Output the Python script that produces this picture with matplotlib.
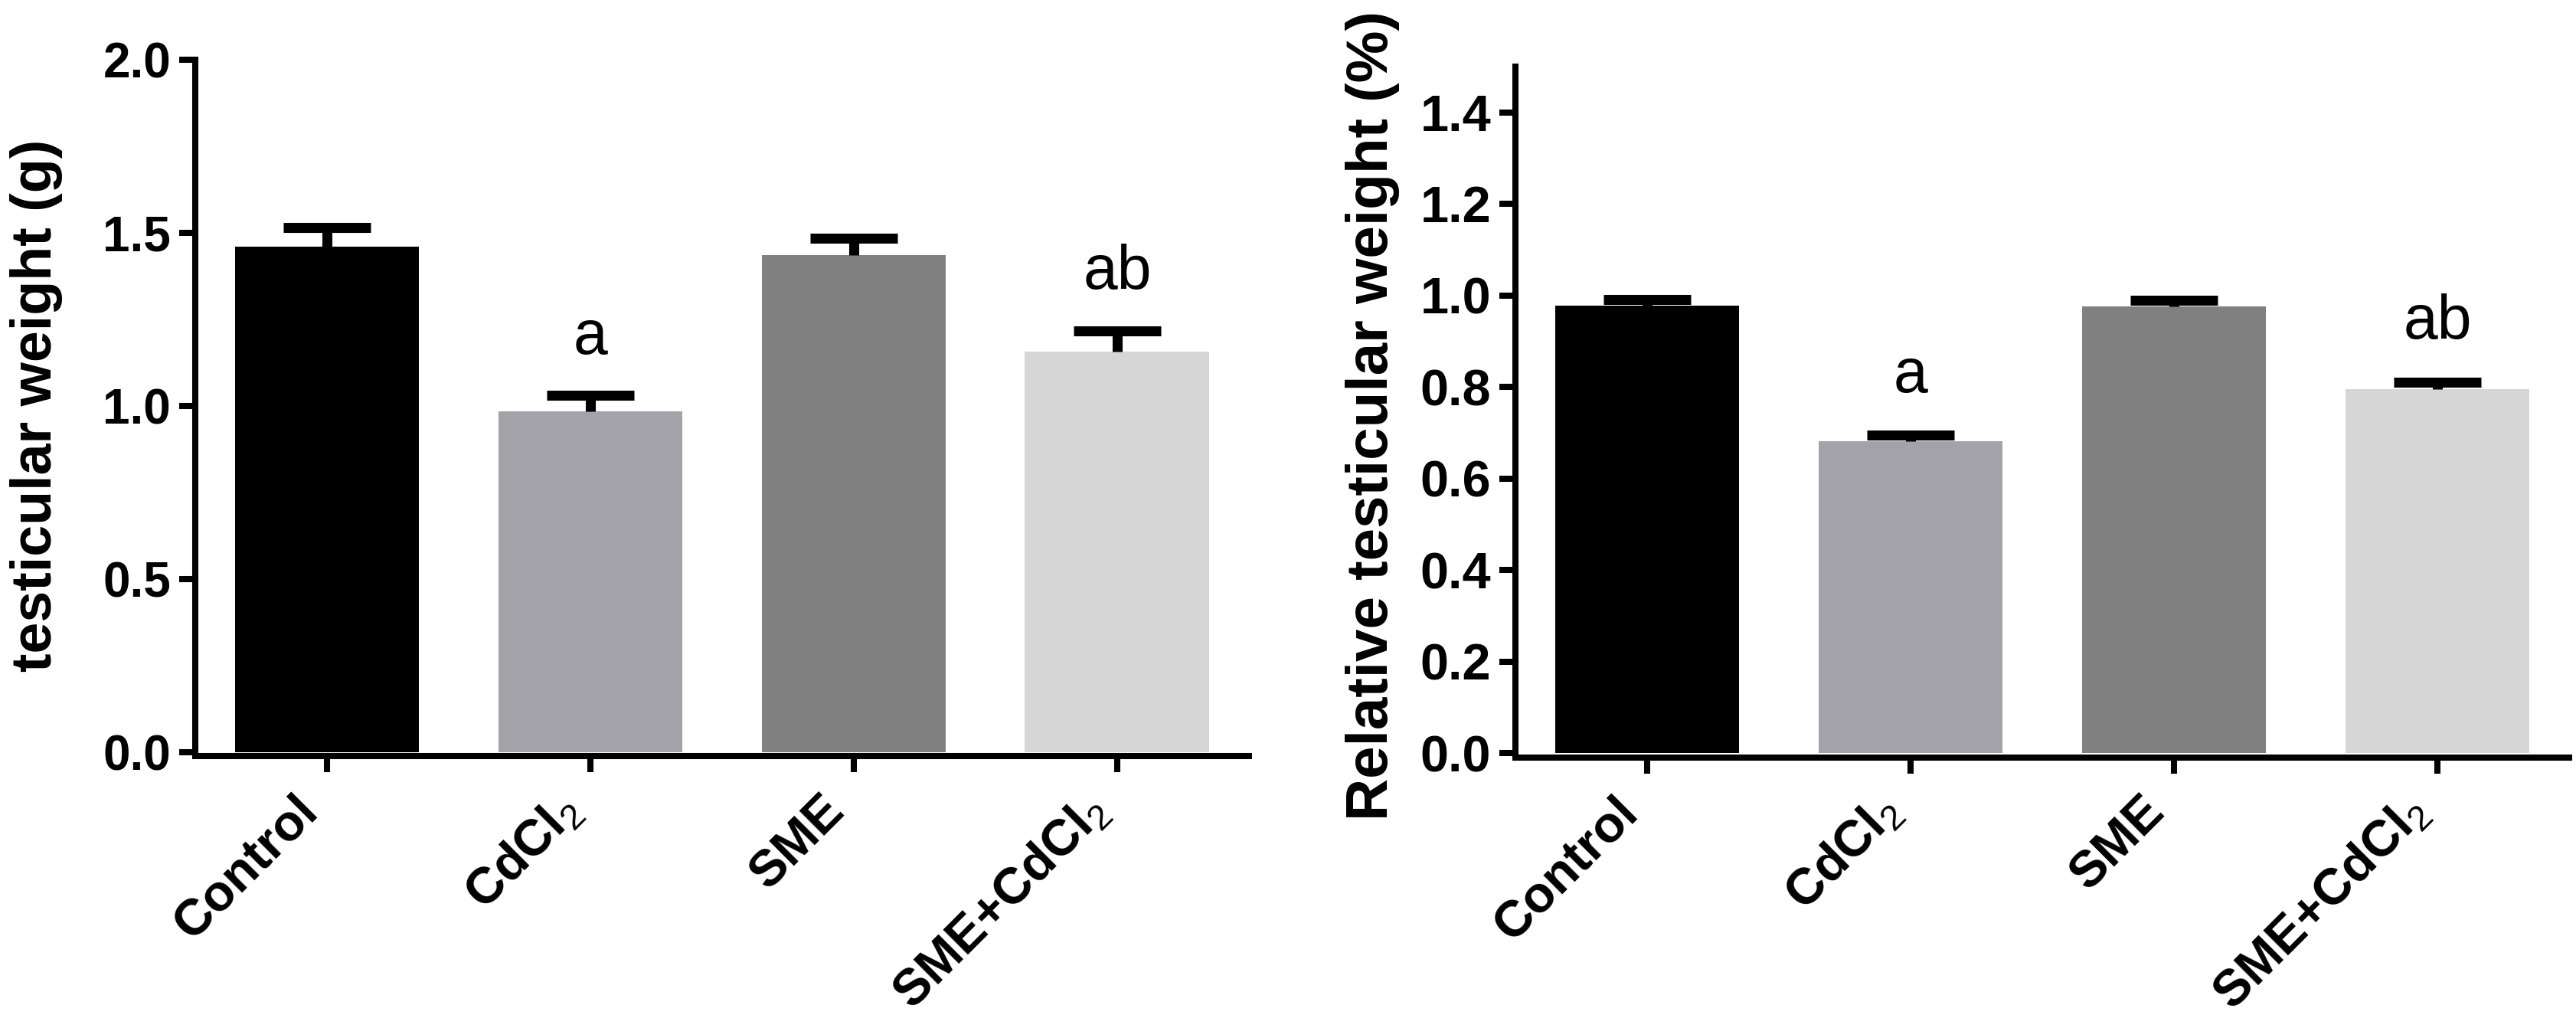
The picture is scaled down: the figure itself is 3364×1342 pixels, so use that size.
import numpy as np
import matplotlib
matplotlib.use('Agg')
import matplotlib.pyplot as plt
import matplotlib.transforms as mtransforms

plt.rcParams['font.family'] = ['Liberation Sans', 'DejaVu Sans']
plt.rcParams['mathtext.fontset'] = 'custom'
plt.rcParams['mathtext.rm'] = 'Liberation Sans'

groups = ['Control', r'CdCl$\mathrm{_2}$', 'SME', r'SME+CdCl$\mathrm{_2}$']
colors = ['#000000', '#a3a2a8', '#808080', '#d6d6d6']

weight_mean = [1.46, 0.985, 1.435, 1.157]
weight_err = [0.055, 0.045, 0.05, 0.06]
weight_sig = ['', 'a', '', 'ab']

rel_mean = [0.978, 0.681, 0.976, 0.796]
rel_err = [0.013, 0.013, 0.013, 0.015]
rel_sig = ['', 'a', '', 'ab']

SPINE = 5.8
ERR_LW = 9.4


def draw_panel(fig, ax, means, errs, sig, ylim, ticks, ylabel, sig_gap, label_x,
               tick_fs, label_fs, label_y=0.5):
    # spine position first: moving it resets the tick labels
    for side in ['top', 'right']:
        ax.spines[side].set_visible(False)
    for side in ['left', 'bottom']:
        ax.spines[side].set_linewidth(SPINE)
    ax.spines['bottom'].set_position(('outward', 4))

    x = np.arange(len(groups))
    means = np.array(means)
    errs = np.array(errs)
    ax.bar(x, means, width=0.7, color=colors, zorder=2)
    top = means + errs
    ax.vlines(x, means, top, color='black', lw=ERR_LW, zorder=3)
    ax.hlines(top, x - 0.165, x + 0.165, color='black', lw=ERR_LW, zorder=3)
    for xi, t, s in zip(x, top, sig):
        if s:
            ax.text(xi, t + sig_gap, s, ha='center', va='baseline',
                    fontsize=58, fontweight='normal')
    ax.set_xlim(-0.5, 3.5)
    ax.set_ylim(*ylim)
    ax.set_yticks(ticks)
    ax.set_yticklabels(['%.1f' % t for t in ticks], fontsize=tick_fs, fontweight='bold')
    ax.set_xticks(x)
    ax.set_xticklabels(groups, rotation=45, ha='right', fontsize=48, fontweight='bold')
    shift = mtransforms.ScaledTranslation(0.25, 0, fig.dpi_scale_trans)
    for lab in ax.get_xticklabels():
        lab.set_transform(lab.get_transform() + shift)
    ax.tick_params(axis='y', length=15, width=SPINE, pad=8)
    ax.tick_params(axis='x', length=15, width=SPINE, pad=14)
    ax.set_ylabel(ylabel, fontsize=label_fs, fontweight='bold')
    ax.yaxis.set_label_coords(label_x, label_y)


fig = plt.figure(figsize=(33.64, 13.42), dpi=100)
ax1 = fig.add_axes([0.0758, 0.2683, 0.4090, 0.6738])
ax2 = fig.add_axes([0.5883, 0.2675, 0.4090, 0.6677])

draw_panel(fig, ax1, weight_mean, weight_err, weight_sig, (0, 2.0),
           np.arange(0, 2.01, 0.5), 'testicular weight (g)', 0.12, -0.126, 46, 53)
draw_panel(fig, ax2, rel_mean, rel_err, rel_sig, (0, 1.5),
           np.arange(0, 1.41, 0.2), 'Relative testicular weight (%)', 0.095, -0.11, 48, 55,
           label_y=0.492)

fig.savefig('out.png', dpi=100)
